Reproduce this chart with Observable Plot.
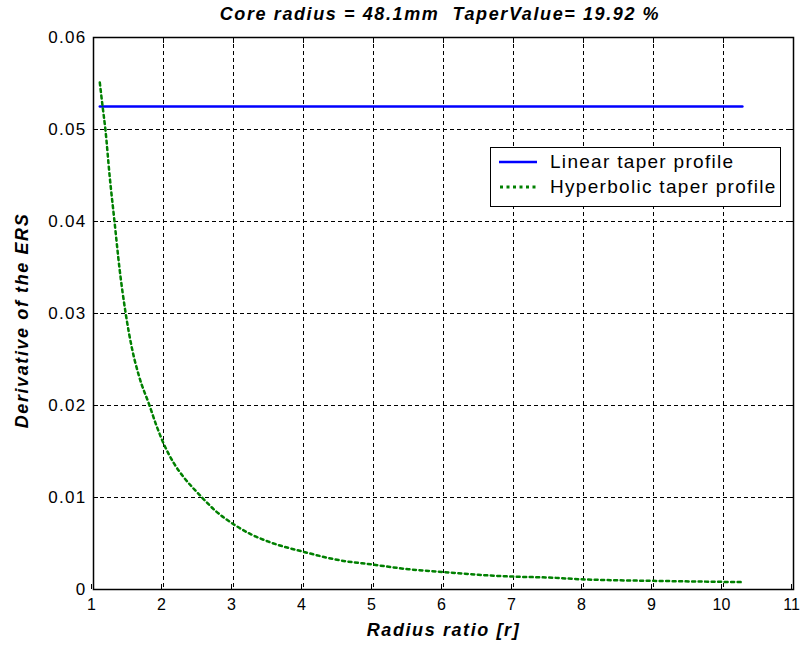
<!DOCTYPE html>
<html>
<head>
<meta charset="utf-8">
<script src="https://cdn.jsdelivr.net/npm/d3@7"></script>
<script src="https://cdn.jsdelivr.net/npm/@observablehq/plot@0.6"></script>
<style>
  body { margin:0; background:#fff; width:800px; height:651px; overflow:hidden; position:relative;
         font-family:"Liberation Sans",Arial,sans-serif; }
  #title { position:absolute; left:0; top:0; width:800px; height:28px; text-align:center; padding-left:80px; box-sizing:border-box;
           font-weight:bold; font-style:italic; font-size:18px; letter-spacing:1.6px; line-height:28px; white-space:pre; }
  #chart { position:absolute; left:0; top:28px; }
  #legend { position:absolute; left:490px; top:147px; width:291px; height:60px; box-sizing:border-box;
            border:1px solid #000; background:#fff; font-size:19px; letter-spacing:1.3px; }
  .row { position:absolute; left:0; height:24px; display:flex; align-items:center; white-space:nowrap; }
  .row svg { margin-left:8px; margin-right:13px; }
</style>
</head>
<body>
<div id="title">Core radius = 48.1mm  TaperValue= 19.92 %</div>
<div id="chart"></div>
<div id="legend">
  <div class="row" style="top:2px"><svg width="38" height="10"><line x1="0" x2="38" y1="5" y2="5" stroke="#0000ff" stroke-width="2.5"/></svg><span>Linear taper profile</span></div>
  <div class="row" style="top:27px"><svg width="38" height="10"><line x1="1" x2="38" y1="5" y2="5" stroke="#008000" stroke-width="3" stroke-dasharray="3,3.5"/></svg><span>Hyperbolic taper profile</span></div>
</div>
<script>
const xTicks = [1,2,3,4,5,6,7,8,9,10,11];
const yTicks = [0,0.01,0.02,0.03,0.04,0.05,0.06];

const linearR = [1.09, 10.27];
const linearV = [0.0525, 0.0525];

const hyperR = [1.09,1.13,1.17,1.23,1.30,1.37,1.46,1.55,1.65,1.80,1.90,2.00,2.15,2.30,2.50,2.55,2.75,3.00,3.25,3.50,4.00,4.50,5.00,5.50,6.00,6.50,7.00,7.50,8.00,8.50,9.00,9.50,10.00,10.27];
const hyperV = [0.0551,0.0525,0.0500,0.0450,0.0400,0.0350,0.0300,0.0262,0.0232,0.0200,0.0178,0.0159,0.0137,0.0121,0.0104,0.0100,0.0085,0.0071,0.0060,0.0052,0.0041,0.0032,0.0027,0.0022,0.0019,0.0016,0.0014,0.0013,0.0011,0.0010,0.00094,0.00088,0.00083,0.00080];

const linear = linearR.map((r,i)=>({r, v:linearV[i]}));
const hyper = hyperR.map((r,i)=>({r, v:hyperV[i]}));

const font = '"Liberation Sans",Arial,sans-serif';
const chart = Plot.plot({
  width: 800, height: 623,
  marginTop: 9, marginBottom: 62, marginLeft: 93, marginRight: 7,
  style: {fontFamily: font, fontSize: "16px", color: "#000", background: "#fff"},
  x: {domain: [1, 11], ticks: xTicks},
  y: {domain: [0, 0.06], ticks: yTicks, tickFormat: d => String(d)},
  marks: [
    Plot.gridX(xTicks.slice(1, -1), {stroke: "#000", strokeOpacity: 1, strokeDasharray: "4,3", strokeWidth: 1}),
    Plot.gridY(yTicks.slice(1, -1), {stroke: "#000", strokeOpacity: 1, strokeDasharray: "4,3", strokeWidth: 1}),
    Plot.axisX(xTicks, {anchor: "bottom", tickSize: -5, tickPadding: 14, dx: -2, stroke: "#000", label: null, fontSize: 16}),
    Plot.axisX(xTicks, {anchor: "top", tickSize: -5, text: null, label: null, stroke: "#000"}),
    Plot.axisY(yTicks, {anchor: "left", tickSize: -5, tickPadding: 12, stroke: "#000", label: null, tickFormat: d => String(d), fontSize: 17}),
    Plot.axisY(yTicks, {anchor: "right", tickSize: -5, text: null, label: null, stroke: "#000"}),
    Plot.line(linear, {x: "r", y: "v", stroke: "#0000ff", strokeWidth: 2.5}),
    Plot.line(hyper, {x: "r", y: "v", stroke: "#008000", strokeWidth: 2.5, strokeDasharray: "3,3.5", curve: "monotone-x"}),
    Plot.frame({stroke: "#000", strokeWidth: 1.5}),
    Plot.text(["Radius ratio [r]"], {frameAnchor: "bottom", dy: 46, fontWeight: "bold", fontStyle: "italic", fontSize: 18}),
    Plot.text(["Derivative of the ERS"], {frameAnchor: "left", dx: -71, dy: 7, rotate: -90, textAnchor: "middle", fontWeight: "bold", fontStyle: "italic", fontSize: 18})
  ]
});
d3.select(chart).selectAll('g[aria-label="text"] text').style("letter-spacing", "1.6px");
d3.select(chart).selectAll('g[aria-label="y-axis tick label"] text').style("letter-spacing", "1.3px");
document.getElementById("chart").appendChild(chart);
</script>
</body>
</html>
